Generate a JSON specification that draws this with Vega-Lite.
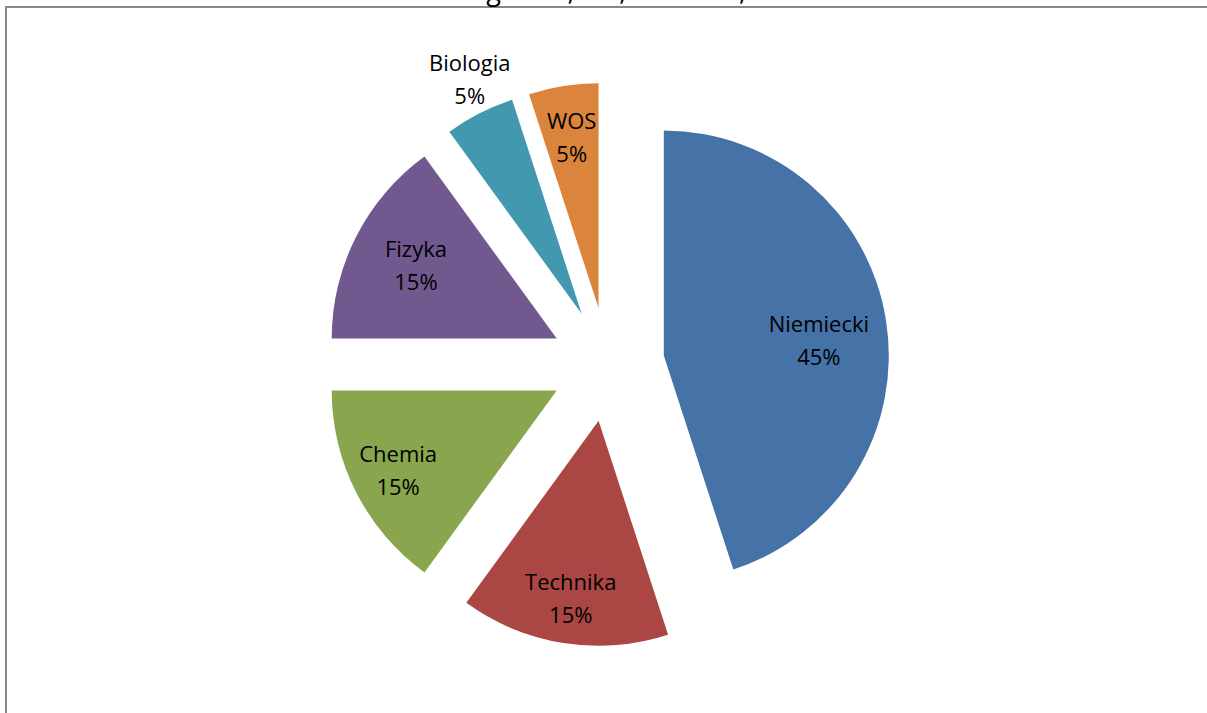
{
  "$schema": "https://vega.github.io/schema/vega-lite/v6.json",
  "width": 1212,
  "height": 720,
  "autosize": {"type": "none"},
  "padding": {"left": 6, "top": 7, "right": 0, "bottom": 0},
  "background": "#fdfdfd",
  "view": {"stroke": "#888888", "strokeWidth": 2, "fill": "#ffffff"},
  "title": {
    "text": "Biologia 18 ; 5%;     WOS 18 ; 5%",
    "font": "Open Sans",
    "fontSize": 27,
    "fontWeight": "normal",
    "color": "#000000",
    "anchor": "middle",
    "baseline": "bottom",
    "offset": -26,
    "dx": -5,
    "zindex": 0
  },
  "data": {
    "values": [
      {"subject": "Niemiecki", "value": 45, "rank": 1},
      {"subject": "Technika", "value": 15, "rank": 2},
      {"subject": "Chemia", "value": 15, "rank": 3},
      {"subject": "Fizyka", "value": 15, "rank": 4},
      {"subject": "Biologia", "value": 5, "rank": 5},
      {"subject": "WOS", "value": 5, "rank": 6}
    ]
  },
  "encoding": {
    "theta": {"field": "value", "type": "quantitative", "stack": true},
    "order": {"field": "rank", "type": "quantitative"},
    "color": {
      "field": "subject",
      "type": "nominal",
      "legend": null,
      "scale": {
        "domain": ["Niemiecki", "Technika", "Chemia", "Fizyka", "Biologia", "WOS"],
        "range": ["#4572A7", "#AA4643", "#89A54E", "#71588F", "#4198AF", "#DB843D"]
      }
    }
  },
  "layer": [
    {
      "mark": {
        "type": "arc",
        "outerRadius": 225,
        "xOffset": {"expr": "-4.5 + 57*sin(PI*(datum.value_start+datum.value_end)/100)"},
        "yOffset": {"expr": "-2.5 - 57*cos(PI*(datum.value_start+datum.value_end)/100)"}
      }
    },
    {
      "transform": [{"calculate": "[datum.subject, datum.value + '%']", "as": "label"}],
      "mark": {
        "type": "text",
        "font": "Open Sans",
        "fontSize": 22,
        "lineHeight": 33,
        "color": "#000000",
        "align": "center",
        "baseline": "middle",
        "radius": {"expr": "datum.subject == 'Biologia' ? 262 : datum.subject == 'Niemiecki' ? 157 : datum.subject == 'Fizyka' ? 158 : datum.subject == 'WOS' ? 172 : 178"},
        "xOffset": {"expr": "-4.5 + 57*sin(PI*(datum.value_start+datum.value_end)/100) + (datum.subject == 'Biologia' ? 7 : 0)"},
        "yOffset": {"expr": "-2.5 - 16.5 - 57*cos(PI*(datum.value_start+datum.value_end)/100) + (datum.subject == 'Niemiecki' ? 10 : 0) + (datum.subject == 'Technika' ? 3 : 0)"}
      },
      "encoding": {
        "text": {"field": "label"},
        "color": {"value": "#000000"}
      }
    }
  ]
}
